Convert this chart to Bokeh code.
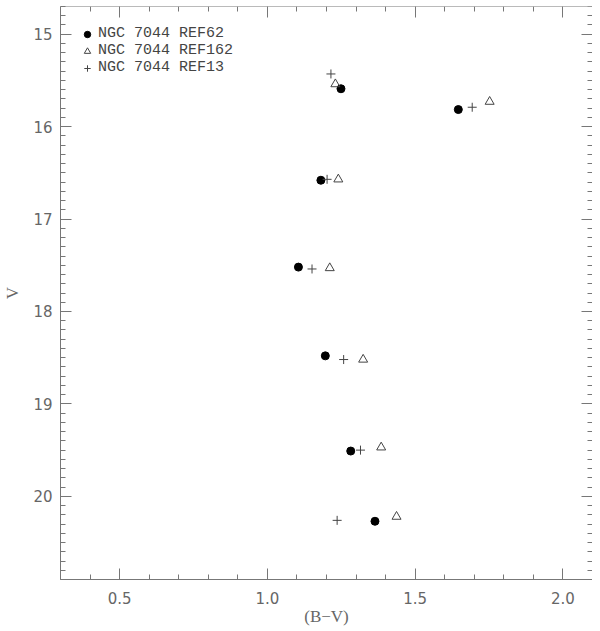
from bokeh.plotting import figure
from bokeh.models import (Range1d, LinearAxis, SingleIntervalTicker, Legend, LegendItem,
                          CustomJSTickFormatter)
from bokeh.embed import file_html
from bokeh.resources import INLINE

# Data
ref62_bv = [1.249, 1.646, 1.181, 1.105, 1.196, 1.282, 1.364]
ref62_v = [15.59, 15.815, 16.58, 17.52, 18.48, 19.51, 20.27]

ref162_bv = [1.230, 1.752, 1.240, 1.211, 1.324, 1.385, 1.437]
ref162_v = [15.54, 15.73, 16.57, 17.53, 18.52, 19.47, 20.22]

ref13_bv = [1.215, 1.693, 1.202, 1.151, 1.258, 1.315, 1.236]
ref13_v = [15.43, 15.79, 16.57, 17.54, 18.52, 19.50, 20.26]

labels = ["NGC 7044 REF62", "NGC 7044 REF162", "NGC 7044 REF13"]

X_MIN, X_MAX = 0.3, 2.1
V_MIN, V_MAX = 14.7, 20.9

AX_COL = "#777777"
TXT_COL = "#666666"

p = figure(width=592, height=628, output_backend="svg", toolbar_location=None,
           x_range=Range1d(X_MIN, X_MAX), y_range=Range1d(V_MAX, V_MIN),
           x_axis_location=None, y_axis_location=None,
           min_border_left=53, min_border_right=0, min_border_top=6, min_border_bottom=0)
p.grid.visible = False
p.outline_line_color = None
p.background_fill_color = "white"

blank = CustomJSTickFormatter(code="return '';")
bottom = LinearAxis(ticker=SingleIntervalTicker(interval=0.5, num_minor_ticks=5),
                    formatter=CustomJSTickFormatter(code="return tick.toFixed(1);"),
                    axis_label="(B\u2212V)")
left = LinearAxis(ticker=SingleIntervalTicker(interval=1, num_minor_ticks=10),
                  axis_label="V")
top = LinearAxis(ticker=SingleIntervalTicker(interval=0.5, num_minor_ticks=5), formatter=blank,
                 fixed_location=V_MIN)
# mirror axis for the right edge: lives in the left panel but is drawn at X_MAX
right = LinearAxis(ticker=SingleIntervalTicker(interval=1, num_minor_ticks=10), formatter=blank,
                   fixed_location=X_MAX)
p.add_layout(bottom, "below")
p.add_layout(left, "left")
p.add_layout(top, "above")
p.add_layout(right, "left")

for ax in [bottom, left, top, right]:
    ax.axis_line_color = AX_COL
    ax.major_tick_line_color = AX_COL
    ax.minor_tick_line_color = AX_COL
    ax.major_tick_in = 11
    ax.major_tick_out = 0
    ax.minor_tick_in = 5
    ax.minor_tick_out = 0
    ax.major_label_text_font = "DejaVu Sans"
    ax.major_label_text_font_size = "15px"
    ax.major_label_text_color = TXT_COL
    ax.axis_label_text_font = "Liberation Serif"
    ax.axis_label_text_font_style = "normal"
    ax.axis_label_text_font_size = "17px"
    ax.axis_label_text_color = TXT_COL

# the right mirror axis is a "left" axis: its ticks must point outward (leftwards)
right.major_tick_in = 0
right.major_tick_out = 11
right.minor_tick_in = 0
right.minor_tick_out = 5

bottom.major_label_standoff = 12
bottom.axis_label_standoff = 0
left.major_label_standoff = 8
left.axis_label_standoff = 8
for ax in [top, right]:
    ax.major_label_text_font_size = "0px"
    ax.major_label_standoff = 0
    ax.axis_label_standoff = 0

r1 = p.scatter(ref62_bv, ref62_v, marker="circle", size=8, fill_color="black", line_color="black")
r2 = p.scatter(ref162_bv, ref162_v, marker="triangle", size=9, fill_color=None,
               line_color="#444444", line_width=1)
r3 = p.scatter(ref13_bv, ref13_v, marker="cross", size=9, line_color="#444444", line_width=1)

legend = Legend(items=[LegendItem(label=labels[0], renderers=[r1]),
                       LegendItem(label=labels[1], renderers=[r2]),
                       LegendItem(label=labels[2], renderers=[r3])],
                location="top_left", margin=19, padding=12, spacing=0,
                glyph_width=16, glyph_height=16, label_height=16, label_standoff=3,
                label_text_font="Liberation Mono", label_text_font_size="15px",
                label_text_color="#444444", background_fill_alpha=0,
                border_line_color=None)
p.add_layout(legend, "center")

open("out.html", "w").write(file_html(p, INLINE))
